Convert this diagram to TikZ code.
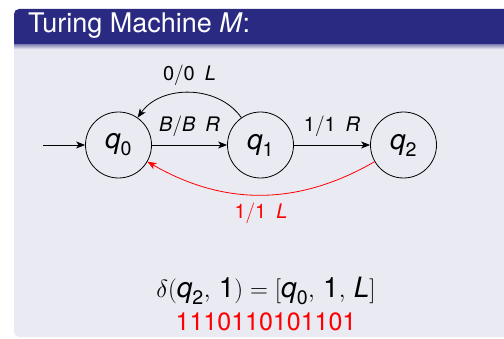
\documentclass[tikz,border=0pt]{standalone}
\usepackage{amsmath}
\usepackage{fontspec}
\setmainfont{TeX Gyre Heros}
\usepackage{tikz}
\usetikzlibrary{arrows.meta}

\definecolor{titlebg}{RGB}{42,42,130}
\definecolor{bodybg}{RGB}{234,234,243}
\newcommand{\stq}[1]{$\textit{q}_{\text{#1}}$}
\newcommand{\tr}[3]{#1$/$#2\enspace\textit{#3}}

\tikzset{
  state/.style={draw,circle,line width=0.8pt,minimum size=66pt,inner sep=0pt,
    font=\fontsize{28}{30}\selectfont},
  trans/.style={-{Stealth[length=9pt,width=7pt,inset=2.5pt]},line width=0.8pt},
  lbl/.style={font=\fontsize{20}{22}\selectfont,inner sep=4pt}
}

\begin{document}
\begin{tikzpicture}[x=1pt,y=1pt]
    \useasboundingbox (0,0) rectangle (504,338);
    % block body and title
    \fill[bodybg, rounded corners=5pt] (14,1) rectangle (530,300);
    \fill[titlebg, rounded corners=5pt] (14,293) rectangle (530,329);
    \fill[titlebg] (14,293) rectangle (530,305);
    \shade[top color=titlebg!45!bodybg, bottom color=bodybg] (14,289) rectangle (530,293);
    \node[anchor=base west, text=white, font=\fontsize{27}{29}\selectfont, inner sep=0pt]
        (title) at (28,305) {Turing Machine \textit{M}:};

    % states
    \node[state] (q0) at (118.5,193) {\stq{0}};
    \node[state] (q1) at (260.5,193) {\stq{1}};
    \node[state] (q2) at (403.5,193) {\stq{2}};
    \coordinate (start) at (43,193);

    % transitions
    \draw[trans] (start) -- (q0);
    \draw[trans] (q0) -- node[lbl,above=4pt] {\tr{\textit{B}}{\textit{B}}{R}} (q1);
    \draw[trans] (q1) to[bend right=55] node[lbl,above=3pt] {\tr{0}{0}{L}} (q0);
    \draw[trans] (q1) -- node[lbl,above=4pt] {\tr{1}{1}{R}} (q2);
    \draw[trans,red] (q2) to[bend left=30] node[lbl,below=4pt] {\tr{1}{1}{L}} (q0);

    % transition encoding
    \node[anchor=base, font=\fontsize{28}{30}\selectfont, inner sep=0pt] (delta) at (266,41)
        {$\delta(\textit{q}_{\text{2}},\, \text{1}) = [\textit{q}_{\text{0}},\, \text{1},\, \textit{L}]$};
    \node[anchor=base, font=\fontsize{25}{27}\selectfont, text=red, inner sep=0pt] (code) at (266,8)
        {1110110101101};
\end{tikzpicture}
\end{document}
